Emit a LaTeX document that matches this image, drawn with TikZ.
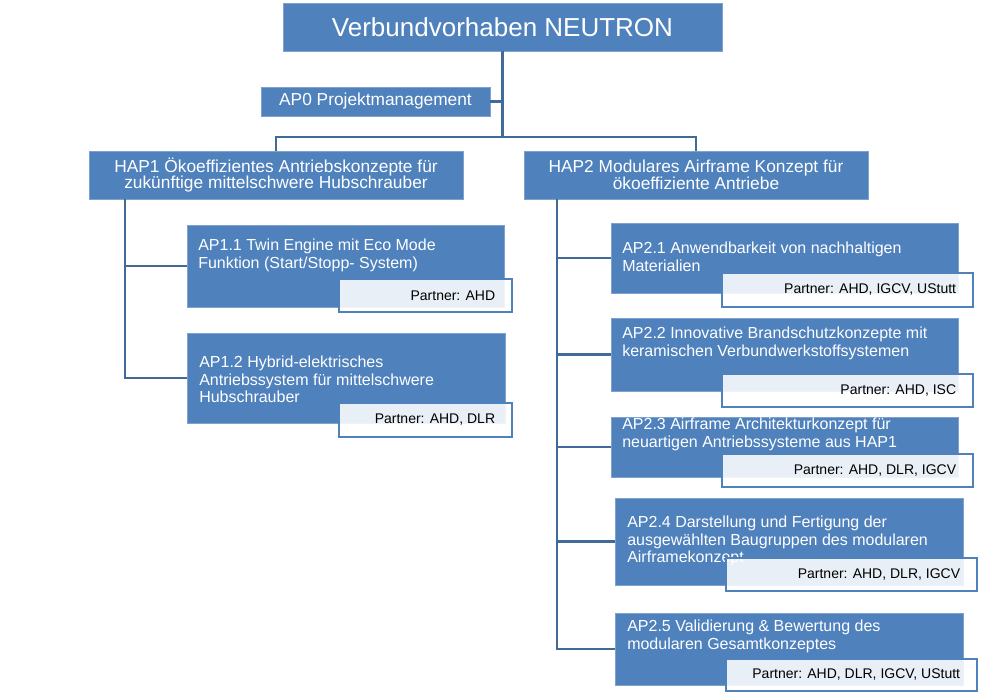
\documentclass[tikz,border=0pt]{standalone}
\usepackage{fontspec}
\setmainfont{Liberation Sans}
\usetikzlibrary{fit}
\definecolor{boxblue}{HTML}{4F81BD}
\definecolor{boxedge}{HTML}{7EA1CE}
\definecolor{linkblue}{HTML}{41699A}
\tikzset{
  blockbox/.style={draw=boxedge,line width=0.6pt,fill=boxblue,inner sep=0pt},
  blocktext/.style={inner sep=0pt,align=center,text=white},
  partnerbox/.style={draw=boxblue,line width=1.1pt,fill=white,fill opacity=0.88,inner sep=0pt},
  conn/.style={draw=linkblue,line width=1.9pt},
  aptext/.style={anchor=north west,inner sep=0pt,align=left,text=white,font=\fontsize{12}{13}\selectfont},
  partnertext/.style={anchor=east,inner sep=0pt,font=\fontsize{10.5}{12}\selectfont}
}
\begin{document}
\begin{tikzpicture}[x=0.75pt,y=-0.75pt]
\useasboundingbox (0,0) rectangle (990,693);
% top level
\node[blockbox,fit={(283,3) (722,51)}] (title) {};
\node[blocktext,font=\fontsize{19.5}{22}\selectfont] (titlet) at (title.center) {Verbundvorhaben NEUTRON};
\node[blockbox,fit={(261,87) (490,116)}] (ap0) {};
\node[blocktext,font=\fontsize{13}{15}\selectfont] (ap0t) at (ap0.center) {AP0 Projektmanagement};
\node[blockbox,fit={(89,151) (463,199)}] (hap1) {};
\node[blocktext,font=\fontsize{13}{12.5}\selectfont] (hap1t) at (hap1.center) {HAP1 Ökoeffizientes Antriebskonzepte für\\zukünftige mittelschwere Hubschrauber};
\node[blockbox,fit={(524,151) (868,199)}] (hap2) {};
\node[blocktext,font=\fontsize{13}{12.5}\selectfont] (hap2t) at (hap2.center) {HAP2 Modulares Airframe Konzept für\\ökoeffiziente Antriebe};
\coordinate (bar) at (0,137);
\coordinate (t1) at (125,0);
\coordinate (t2) at (557,0);
\draw[conn] (title.south) -- (title.south |- bar);
\draw[conn] (hap1.north) -- (hap1.north |- bar) -- (hap2.north |- bar) -- (hap2.north);
\draw[conn] (ap0.east) -- (ap0.east -| title.south);
% HAP1
\node[blockbox,fit={(187,225) (504,307)}] (ap11) {};
\node[aptext] (ap11t) at (198,239) {AP1.1 Twin Engine mit Eco Mode\\Funktion (Start/Stopp- System)};
\node[partnerbox,fit={(339,279) (512,312)}] (ap11p) {};
\node[partnertext] at ([xshift=-13]ap11p.east) {Partner: AHD};
\node[blockbox,fit={(187,333) (505,423)}] (ap12) {};
\node[aptext] (ap12t) at (199,356) {AP1.2 Hybrid-elektrisches\\Antriebssystem für mittelschwere\\Hubschrauber};
\node[partnerbox,fit={(339,403) (512,437)}] (ap12p) {};
\node[partnertext] at ([xshift=-13]ap12p.east) {Partner: AHD, DLR};
\draw[conn] (hap1.south -| t1) |- (ap12.west);
\draw[conn] (t1 |- ap11.west) -- (ap11.west);
% HAP2
\node[blockbox,fit={(611,223) (958,293)}] (ap21) {};
\node[aptext] (ap21t) at (622,242) {AP2.1 Anwendbarkeit von nachhaltigen\\Materialien};
\node[partnerbox,fit={(722,273) (973,307)}] (ap21p) {};
\node[partnertext] at ([xshift=-13]ap21p.east) {Partner: AHD, IGCV, UStutt};
\node[blockbox,fit={(611,318) (958,391)}] (ap22) {};
\node[aptext] (ap22t) at (622,327) {AP2.2 Innovative Brandschutzkonzepte mit\\keramischen Verbundwerkstoffsystemen};
\node[partnerbox,fit={(722,374) (973,407)}] (ap22p) {};
\node[partnertext] at ([xshift=-13]ap22p.east) {Partner: AHD, ISC};
\node[blockbox,fit={(611,417) (958,477)}] (ap23) {};
\node[aptext] (ap23t) at (622,418) {AP2.3 Airframe Architekturkonzept für\\neuartigen Antriebssysteme aus HAP1};
\node[partnerbox,fit={(722,454) (973,487)}] (ap23p) {};
\node[partnertext] at ([xshift=-13]ap23p.east) {Partner: AHD, DLR, IGCV};
\node[blockbox,fit={(615,498) (963,585)}] (ap24) {};
\node[aptext] (ap24t) at (627,516) {AP2.4 Darstellung und Fertigung der\\ausgewählten Baugruppen des modularen\\Airframekonzept};
\node[partnerbox,fit={(726,558) (977,591)}] (ap24p) {};
\node[partnertext] at ([xshift=-13]ap24p.east) {Partner: AHD, DLR, IGCV};
\node[blockbox,fit={(615,613) (963,685)}] (ap25) {};
\node[aptext] (ap25t) at (627,620) {AP2.5 Validierung \& Bewertung des\\modularen Gesamtkonzeptes};
\node[partnerbox,fit={(726,659) (977,691)}] (ap25p) {};
\node[partnertext] at ([xshift=-13]ap25p.east) {Partner: AHD, DLR, IGCV, UStutt};
\draw[conn] (hap2.south -| t2) |- (ap25.west);
\draw[conn] (t2 |- ap21.west) -- (ap21.west);
\draw[conn] (t2 |- ap22.west) -- (ap22.west);
\draw[conn] (t2 |- ap23.west) -- (ap23.west);
\draw[conn] (t2 |- ap24.west) -- (ap24.west);
\end{tikzpicture}
\end{document}
